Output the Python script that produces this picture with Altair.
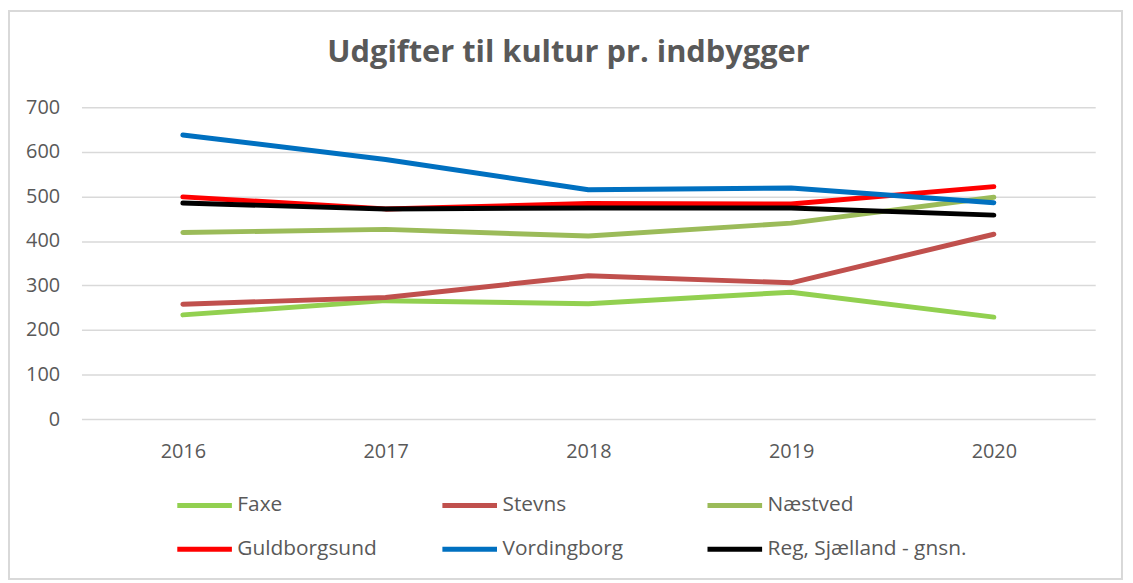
import altair as alt
import pandas as pd

years = ["2016", "2017", "2018", "2019", "2020"]
series_names = ["Faxe", "Stevns", "Næstved", "Guldborgsund", "Vordingborg", "Reg, Sjælland - gnsn."]
faxe = [234, 266, 259, 285, 229]
stevns = [258, 273, 322, 306, 415]
naestved = [419, 426, 411, 440, 498]
guldborgsund = [499, 472, 484, 483, 522]
vordingborg = [638, 583, 515, 519, 486]
region = [485, 472, 474, 474, 458]
colors = ["#92D050", "#C0504D", "#9BBB59", "#FF0000", "#0070C0", "#000000"]

all_series = [faxe, stevns, naestved, guldborgsund, vordingborg, region]
rows = []
for name, vals in zip(series_names, all_series):
    for y, v in zip(years, vals):
        rows.append({"year": y, "series": name, "value": v})
df = pd.DataFrame(rows)

FONT = "Open Sans"
GREY = "#595959"

lines = alt.Chart(df).mark_line(strokeWidth=5, strokeCap="round", strokeJoin="round").encode(
    x=alt.X("year:O", scale=alt.Scale(type="point", padding=0.5), sort=years,
            axis=alt.Axis(title=None, labelAngle=0, domain=False, ticks=False, grid=False,
                          labelPadding=23, labelFontSize=20, labelColor=GREY, labelFont=FONT)),
    y=alt.Y("value:Q", scale=alt.Scale(domain=[0, 700], nice=False),
            axis=alt.Axis(title=None, values=[0, 100, 200, 300, 400, 500, 600, 700],
                          domain=False, ticks=False, labelPadding=22, labelFontSize=20,
                          labelColor=GREY, labelFont=FONT, gridColor="#D9D9D9", gridWidth=1.5)),
    color=alt.Color("series:N", sort=series_names,
                    scale=alt.Scale(domain=series_names, range=colors),
                    legend=alt.Legend(title=None, orient="none", legendX=94, legendY=371,
                                      columns=3, direction="horizontal", gridAlign="all",
                                      symbolType="stroke", symbolSize=3025, symbolStrokeWidth=5,
                                      labelFontSize=21, labelFont=FONT, labelColor=GREY,
                                      labelOffset=3, labelLimit=400, columnPadding=-5,
                                      rowPadding=4)),
    order=alt.Order("series:N", sort="ascending"),
)

border = alt.Chart(df).mark_rect(fill=None, stroke="#D9D9D9", strokeWidth=2).encode(
    x=alt.value(-73), x2=alt.value(1048), y=alt.value(-97), y2=alt.value(475)
)

chart = alt.layer(border, lines).properties(
    width=1021, height=314,
    title=alt.TitleParams("Udgifter til kultur pr. indbygger", fontSize=31, fontWeight="bold",
                          color=GREY, font=FONT, anchor="middle", frame="group",
                          baseline="middle", offset=54, dy=128, dx=-20),
    autosize=alt.AutoSizeParams(type="none"),
    padding={"left": 74, "top": 98, "right": 30, "bottom": 163},
).configure_view(stroke=None)

chart.save("out.html", embed_options={"renderer": "svg", "actions": False})
